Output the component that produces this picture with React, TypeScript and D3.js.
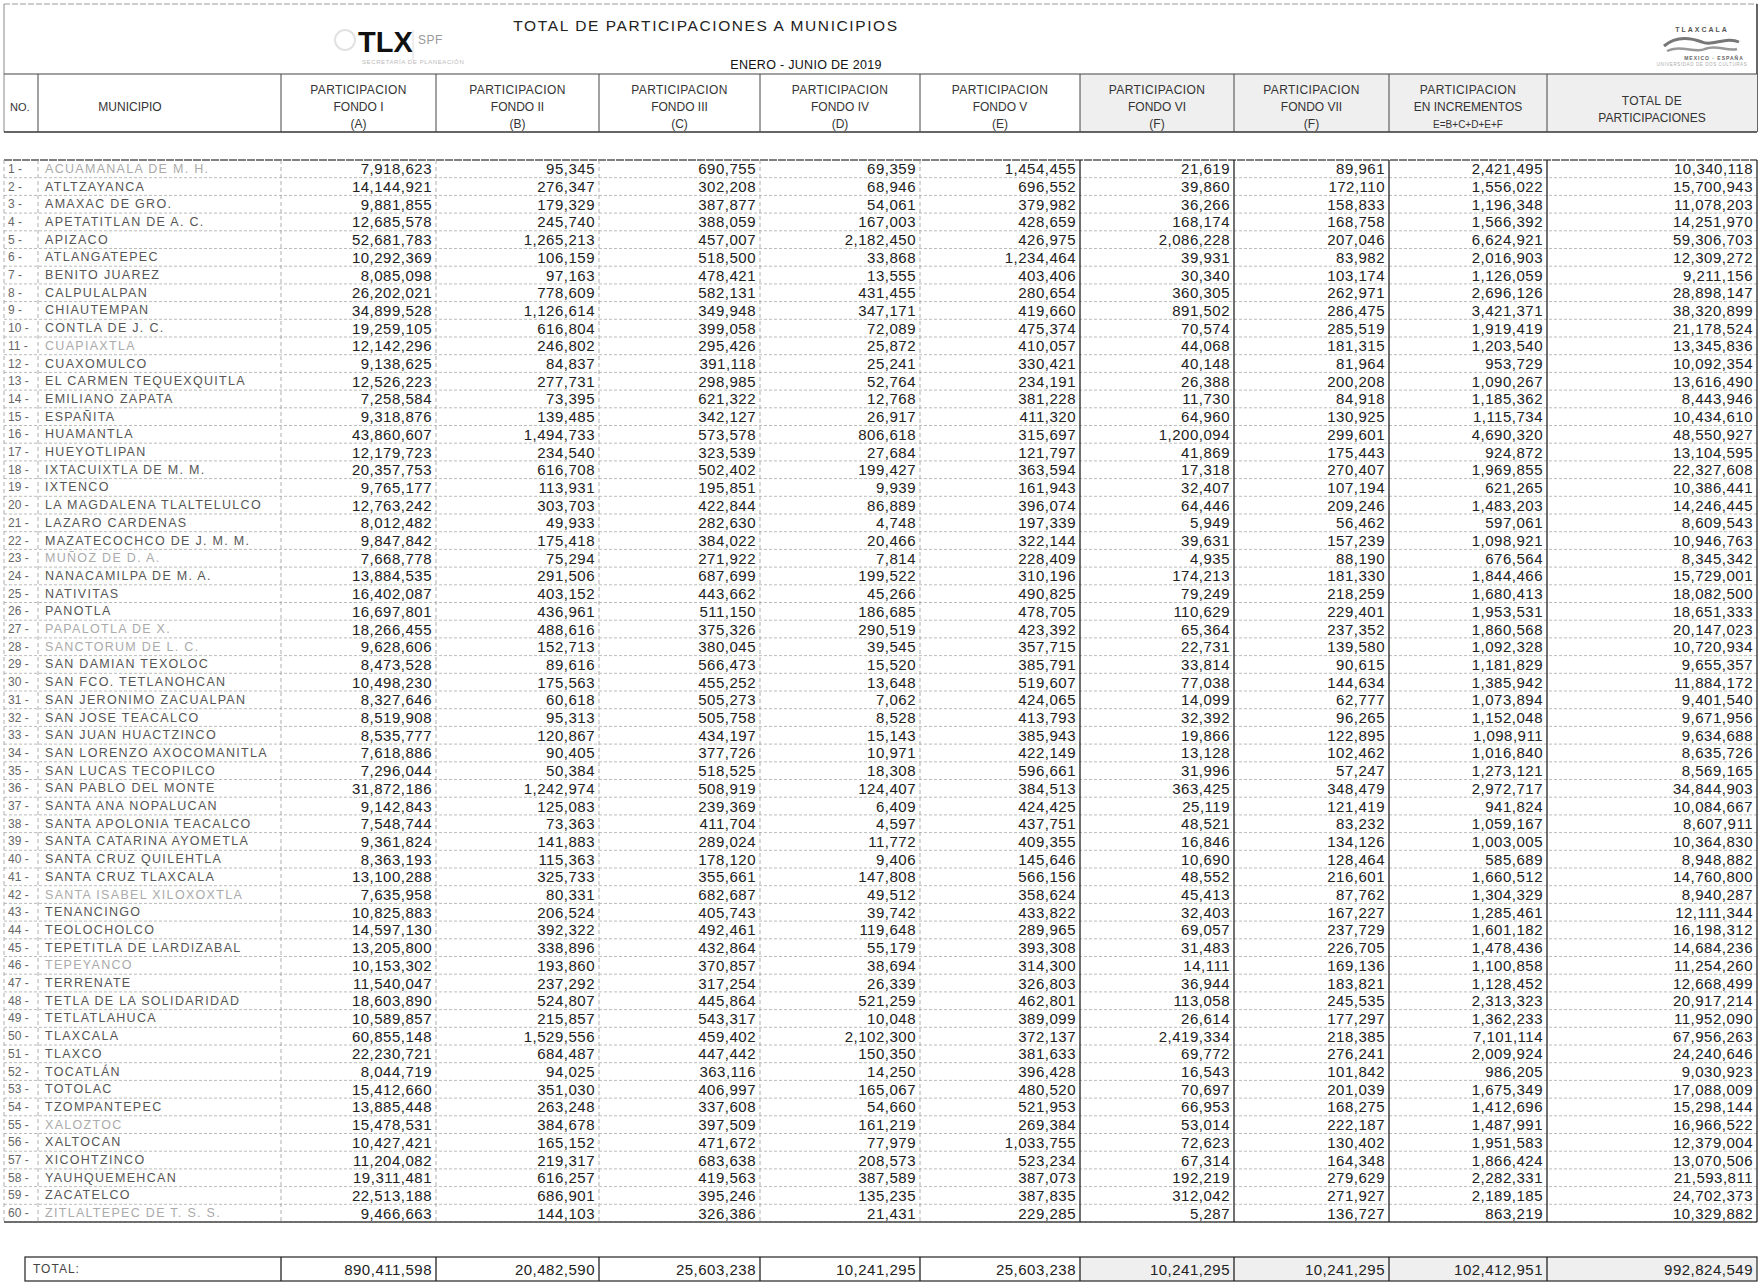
import React from 'react';
import * as d3 from 'd3';

// ---- data ----
const municipios = [
  'ACUAMANALA DE M. H.', 'ATLTZAYANCA', 'AMAXAC DE GRO.', 'APETATITLAN DE A. C.', 'APIZACO',
  'ATLANGATEPEC', 'BENITO JUAREZ', 'CALPULALPAN', 'CHIAUTEMPAN', 'CONTLA DE J. C.',
  'CUAPIAXTLA', 'CUAXOMULCO', 'EL CARMEN TEQUEXQUITLA', 'EMILIANO ZAPATA', 'ESPAÑITA',
  'HUAMANTLA', 'HUEYOTLIPAN', 'IXTACUIXTLA DE M. M.', 'IXTENCO', 'LA MAGDALENA TLALTELULCO',
  'LAZARO CARDENAS', 'MAZATECOCHCO DE J. M. M.', 'MUÑOZ DE D. A.', 'NANACAMILPA DE M. A.', 'NATIVITAS',
  'PANOTLA', 'PAPALOTLA DE X.', 'SANCTORUM DE L. C.', 'SAN DAMIAN TEXOLOC', 'SAN FCO. TETLANOHCAN',
  'SAN JERONIMO ZACUALPAN', 'SAN JOSE TEACALCO', 'SAN JUAN HUACTZINCO', 'SAN LORENZO AXOCOMANITLA', 'SAN LUCAS TECOPILCO',
  'SAN PABLO DEL MONTE', 'SANTA ANA NOPALUCAN', 'SANTA APOLONIA TEACALCO', 'SANTA CATARINA AYOMETLA', 'SANTA CRUZ QUILEHTLA',
  'SANTA CRUZ TLAXCALA', 'SANTA ISABEL XILOXOXTLA', 'TENANCINGO', 'TEOLOCHOLCO', 'TEPETITLA DE LARDIZABAL',
  'TEPEYANCO', 'TERRENATE', 'TETLA DE LA SOLIDARIDAD', 'TETLATLAHUCA', 'TLAXCALA',
  'TLAXCO', 'TOCATLÁN', 'TOTOLAC', 'TZOMPANTEPEC', 'XALOZTOC',
  'XALTOCAN', 'XICOHTZINCO', 'YAUHQUEMEHCAN', 'ZACATELCO', 'ZITLALTEPEC DE T. S. S.',
];

const fondoI = [
  7918623, 14144921, 9881855, 12685578, 52681783, 10292369, 8085098, 26202021, 34899528, 19259105,
  12142296, 9138625, 12526223, 7258584, 9318876, 43860607, 12179723, 20357753, 9765177, 12763242,
  8012482, 9847842, 7668778, 13884535, 16402087, 16697801, 18266455, 9628606, 8473528, 10498230,
  8327646, 8519908, 8535777, 7618886, 7296044, 31872186, 9142843, 7548744, 9361824, 8363193,
  13100288, 7635958, 10825883, 14597130, 13205800, 10153302, 11540047, 18603890, 10589857, 60855148,
  22230721, 8044719, 15412660, 13885448, 15478531, 10427421, 11204082, 19311481, 22513188, 9466663,
];
const fondoII = [
  95345, 276347, 179329, 245740, 1265213, 106159, 97163, 778609, 1126614, 616804,
  246802, 84837, 277731, 73395, 139485, 1494733, 234540, 616708, 113931, 303703,
  49933, 175418, 75294, 291506, 403152, 436961, 488616, 152713, 89616, 175563,
  60618, 95313, 120867, 90405, 50384, 1242974, 125083, 73363, 141883, 115363,
  325733, 80331, 206524, 392322, 338896, 193860, 237292, 524807, 215857, 1529556,
  684487, 94025, 351030, 263248, 384678, 165152, 219317, 616257, 686901, 144103,
];
const fondoIII = [
  690755, 302208, 387877, 388059, 457007, 518500, 478421, 582131, 349948, 399058,
  295426, 391118, 298985, 621322, 342127, 573578, 323539, 502402, 195851, 422844,
  282630, 384022, 271922, 687699, 443662, 511150, 375326, 380045, 566473, 455252,
  505273, 505758, 434197, 377726, 518525, 508919, 239369, 411704, 289024, 178120,
  355661, 682687, 405743, 492461, 432864, 370857, 317254, 445864, 543317, 459402,
  447442, 363116, 406997, 337608, 397509, 471672, 683638, 419563, 395246, 326386,
];
const fondoIV = [
  69359, 68946, 54061, 167003, 2182450, 33868, 13555, 431455, 347171, 72089,
  25872, 25241, 52764, 12768, 26917, 806618, 27684, 199427, 9939, 86889,
  4748, 20466, 7814, 199522, 45266, 186685, 290519, 39545, 15520, 13648,
  7062, 8528, 15143, 10971, 18308, 124407, 6409, 4597, 11772, 9406,
  147808, 49512, 39742, 119648, 55179, 38694, 26339, 521259, 10048, 2102300,
  150350, 14250, 165067, 54660, 161219, 77979, 208573, 387589, 135235, 21431,
];
const fondoV = [
  1454455, 696552, 379982, 428659, 426975, 1234464, 403406, 280654, 419660, 475374,
  410057, 330421, 234191, 381228, 411320, 315697, 121797, 363594, 161943, 396074,
  197339, 322144, 228409, 310196, 490825, 478705, 423392, 357715, 385791, 519607,
  424065, 413793, 385943, 422149, 596661, 384513, 424425, 437751, 409355, 145646,
  566156, 358624, 433822, 289965, 393308, 314300, 326803, 462801, 389099, 372137,
  381633, 396428, 480520, 521953, 269384, 1033755, 523234, 387073, 387835, 229285,
];
const fondoVI = [
  21619, 39860, 36266, 168174, 2086228, 39931, 30340, 360305, 891502, 70574,
  44068, 40148, 26388, 11730, 64960, 1200094, 41869, 17318, 32407, 64446,
  5949, 39631, 4935, 174213, 79249, 110629, 65364, 22731, 33814, 77038,
  14099, 32392, 19866, 13128, 31996, 363425, 25119, 48521, 16846, 10690,
  48552, 45413, 32403, 69057, 31483, 14111, 36944, 113058, 26614, 2419334,
  69772, 16543, 70697, 66953, 53014, 72623, 67314, 192219, 312042, 5287,
];
const fondoVII = [
  89961, 172110, 158833, 168758, 207046, 83982, 103174, 262971, 286475, 285519,
  181315, 81964, 200208, 84918, 130925, 299601, 175443, 270407, 107194, 209246,
  56462, 157239, 88190, 181330, 218259, 229401, 237352, 139580, 90615, 144634,
  62777, 96265, 122895, 102462, 57247, 348479, 121419, 83232, 134126, 128464,
  216601, 87762, 167227, 237729, 226705, 169136, 183821, 245535, 177297, 218385,
  276241, 101842, 201039, 168275, 222187, 130402, 164348, 279629, 271927, 136727,
];
const incrementos = [
  2421495, 1556022, 1196348, 1566392, 6624921, 2016903, 1126059, 2696126, 3421371, 1919419,
  1203540, 953729, 1090267, 1185362, 1115734, 4690320, 924872, 1969855, 621265, 1483203,
  597061, 1098921, 676564, 1844466, 1680413, 1953531, 1860568, 1092328, 1181829, 1385942,
  1073894, 1152048, 1098911, 1016840, 1273121, 2972717, 941824, 1059167, 1003005, 585689,
  1660512, 1304329, 1285461, 1601182, 1478436, 1100858, 1128452, 2313323, 1362233, 7101114,
  2009924, 986205, 1675349, 1412696, 1487991, 1951583, 1866424, 2282331, 2189185, 863219,
];
const totalParticipaciones = [
  10340118, 15700943, 11078203, 14251970, 59306703, 12309272, 9211156, 28898147, 38320899, 21178524,
  13345836, 10092354, 13616490, 8443946, 10434610, 48550927, 13104595, 22327608, 10386441, 14246445,
  8609543, 10946763, 8345342, 15729001, 18082500, 18651333, 20147023, 10720934, 9655357, 11884172,
  9401540, 9671956, 9634688, 8635726, 8569165, 34844903, 10084667, 8607911, 10364830, 8948882,
  14760800, 8940287, 12111344, 16198312, 14684236, 11254260, 12668499, 20917214, 11952090, 67956263,
  24240646, 9030923, 17088009, 15298144, 16966522, 12379004, 13070506, 21593811, 24702373, 10329882,
];
const totales = [890411598, 20482590, 25603238, 10241295, 25603238, 10241295, 10241295, 102412951, 992824549];

const headerLabels = [
  ['PARTICIPACION', 'FONDO I', '(A)'],
  ['PARTICIPACION', 'FONDO II', '(B)'],
  ['PARTICIPACION', 'FONDO III', '(C)'],
  ['PARTICIPACION', 'FONDO IV', '(D)'],
  ['PARTICIPACION', 'FONDO V', '(E)'],
  ['PARTICIPACION', 'FONDO VI', '(F)'],
  ['PARTICIPACION', 'FONDO VII', '(F)'],
  ['PARTICIPACION', 'EN INCREMENTOS', 'E=B+C+D+E+F'],
  ['TOTAL DE', 'PARTICIPACIONES'],
];

// names that came out faint on the scan
const fadedRows = [1, 11, 23, 27, 28, 42, 46, 55, 60];

const W = 1764;
const H = 1288;
const FONT = "'Liberation Sans', Arial, sans-serif";
// column edges: left, NO., MUNICIPIO, then the nine money columns
const edges = [4, 38, 281, 436, 599, 760, 920, 1080, 1234, 1389, 1547, 1757];
const headTop = 74;
const headBottom = 132;
const tableTop = 160;
const tableBottom = 1222;
const totTop = 1257;
const totBottom = 1281;

const App: React.FC = () => {
  const series = [fondoI, fondoII, fondoIII, fondoIV, fondoV, fondoVI, fondoVII, incrementos, totalParticipaciones];
  const fmt = d3.format(',');
  const y = d3.scaleBand<number>().domain(d3.range(municipios.length)).range([tableTop, tableBottom]);
  const headY = d3.scalePoint<number>().domain([0, 1, 2]).range([90, 124]);
  const mid = (i: number) => (edges[i] + edges[i + 1]) / 2;
  const darkEdge = (i: number) => i >= 7; // money column right edges from Fondo V on are solid
  const shaded = [7, 8, 9, 10]; // speckled grey cells on the scan

  return (
    <svg width={W} height={H} style={{ position: 'absolute', left: 0, top: 0, display: 'block', background: '#fff' }} fontFamily={FONT}>
      {/* header frame */}
      <line x1={edges[0]} x2={edges[11]} y1={4} y2={4} stroke="#999" strokeWidth={1} strokeDasharray="6,2" />
      <line x1={edges[0]} x2={edges[0]} y1={4} y2={headBottom} stroke="#888" />
      <line x1={edges[11]} x2={edges[11]} y1={4} y2={headBottom} stroke="#333" strokeWidth={1.5} />
      {shaded.map(i => (
        <rect key={'hs' + i} x={edges[i]} y={headTop} width={edges[i + 1] - edges[i]} height={headBottom - headTop} fill="#efefef" />
      ))}
      <line x1={edges[0]} x2={edges[11]} y1={headTop} y2={headTop} stroke="#444" strokeWidth={1.2} />
      <line x1={edges[0]} x2={edges[11]} y1={headBottom} y2={headBottom} stroke="#333" strokeWidth={1.5} />
      {edges.slice(1, 11).map((x, i) => (
        <line key={'hv' + i} x1={x} x2={x} y1={headTop} y2={headBottom} stroke="#444" strokeWidth={1} />
      ))}

      {/* logo left */}
      <circle cx={345} cy={40} r={10} fill="none" stroke="#e2e2e2" strokeWidth={2} />
      <text x={358} y={52} fontSize={29} fontWeight="bold" fill="#111">TLX</text>
      <line x1={413} x2={413} y1={30} y2={60} stroke="#ddd" />
      <text x={418} y={44} fontSize={12} fill="#999" letterSpacing={0.5}>SPF</text>
      <text x={362} y={64} fontSize={6} fill="#bbb" letterSpacing={0.6}>SECRETARÍA DE PLANEACIÓN</text>

      {/* titles */}
      <text x={706} y={31} fontSize={15.5} fill="#222" textAnchor="middle" letterSpacing={1.6}>TOTAL DE PARTICIPACIONES A MUNICIPIOS</text>
      <text x={806} y={69} fontSize={12.5} fill="#111" textAnchor="middle" letterSpacing={0.3}>ENERO - JUNIO DE 2019</text>

      {/* logo right */}
      <g transform="translate(1702,44)">
        <text x={0} y={-12} fontSize={7} fontWeight="bold" fill="#555" textAnchor="middle" letterSpacing={2}>TLAXCALA</text>
        <path d="M-38,2 C-24,-10 -8,-5 0,-2 C10,3 24,-8 37,-2" fill="none" stroke="#777" strokeWidth={3} />
        <path d="M-35,7 C-22,0 -6,10 3,5 C14,0 26,8 35,5" fill="none" stroke="#999" strokeWidth={2.5} />
        <text x={12} y={16} fontSize={5} fontWeight="bold" fill="#666" textAnchor="middle" letterSpacing={1}>MEXICO · ESPAÑA</text>
        <text x={0} y={22} fontSize={4.5} fill="#aaa" textAnchor="middle" letterSpacing={0.6}>UNIVERSIDAD DE DOS CULTURAS</text>
      </g>

      {/* header labels */}
      <text x={10} y={headY(1)} fontSize={11} fill="#333" dominantBaseline="central">NO.</text>
      <text x={130} y={headY(1)} fontSize={12} fill="#333" textAnchor="middle" dominantBaseline="central">MUNICIPIO</text>
      {headerLabels.map((lines, c) => {
        const ys = lines.length === 3 ? [headY(0), headY(1), headY(2)] : [(headY(0)! + headY(1)!) / 2 + 2, (headY(1)! + headY(2)!) / 2 + 2];
        return lines.map((t, k) => (
          <text key={'hl' + c + k} x={mid(c + 2)} y={ys[k]} fontSize={k === 2 && c === 7 ? 10 : 12} fill="#333"
            textAnchor="middle" dominantBaseline="central" letterSpacing={k === 0 ? 0.4 : 0}>{t}</text>
        ));
      })}

      {/* data table grid */}
      {municipios.map((_, i) => (
        <line key={'rl' + i} x1={edges[0]} x2={edges[11]} y1={y(i)! + y.bandwidth()} y2={y(i)! + y.bandwidth()}
          stroke="#aaa" strokeWidth={0.8} strokeDasharray="3,2" />
      ))}
      <line x1={edges[0]} x2={edges[11]} y1={tableTop} y2={tableTop} stroke="#555" strokeWidth={1.6} strokeDasharray="8,1" />
      <line x1={edges[0]} x2={edges[11]} y1={tableBottom} y2={tableBottom} stroke="#444" strokeWidth={1.6} />
      {edges.map((x, i) => (
        <line key={'dv' + i} x1={x} x2={x} y1={tableTop} y2={tableBottom}
          stroke={darkEdge(i) ? '#222' : '#999'} strokeWidth={darkEdge(i) ? 1.3 : 0.8}
          strokeDasharray={darkEdge(i) ? undefined : '4,3'} />
      ))}

      {/* rows */}
      {municipios.map((name, i) => {
        const cy = y(i)! + y.bandwidth() / 2;
        const faded = fadedRows.includes(i + 1);
        return (
          <g key={'r' + i}>
            <text x={8} y={cy} fontSize={12} fill="#666" dominantBaseline="central">{`${i + 1} -`}</text>
            <text x={edges[1] + 7} y={cy} fontSize={12.5} fill={faded ? '#aaa' : '#555'} dominantBaseline="central" letterSpacing={1.3}>{name}</text>
            {series.map((s, c) => (
              <text key={c} x={edges[c + 3] - 4} y={cy} fontSize={15} fill="#222" textAnchor="end"
                dominantBaseline="central" letterSpacing={0.5}>{fmt(s[i])}</text>
            ))}
          </g>
        );
      })}

      {/* total row */}
      {[7, 8, 9, 10].map(i => (
        <rect key={'ts' + i} x={edges[i]} y={totTop} width={edges[i + 1] - edges[i]} height={totBottom - totTop} fill="#efefef" />
      ))}
      <rect x={25} y={totTop} width={edges[11] - 25} height={totBottom - totTop} fill="none" stroke="#333" strokeWidth={1.3} />
      {edges.slice(2, 11).map((x, i) => (
        <line key={'tv' + i} x1={x} x2={x} y1={totTop} y2={totBottom} stroke="#222" strokeWidth={1.3} />
      ))}
      <text x={33} y={(totTop + totBottom) / 2} fontSize={12} fill="#444" dominantBaseline="central" letterSpacing={1}>TOTAL:</text>
      {totales.map((v, c) => (
        <text key={'tt' + c} x={edges[c + 3] - 4} y={(totTop + totBottom) / 2} fontSize={15} fill="#222" textAnchor="end"
          dominantBaseline="central" letterSpacing={0.5}>{fmt(v)}</text>
      ))}
    </svg>
  );
};

export default App;
